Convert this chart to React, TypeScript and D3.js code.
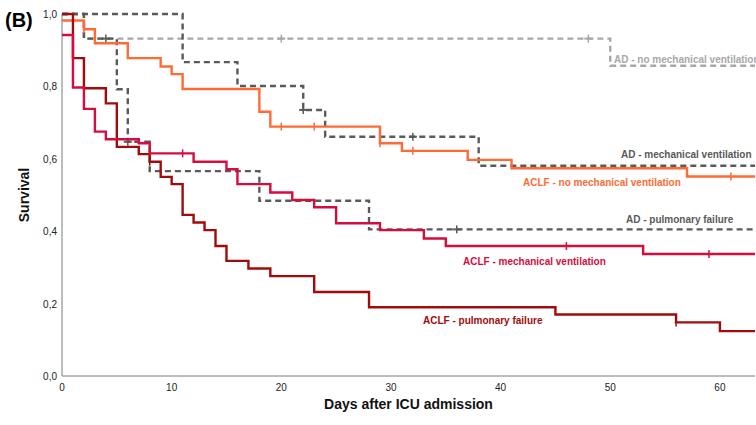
import React from "react";
import * as d3 from "d3";

const W = 756;
const H = 425;

// ---- data (days, survival) ----
const aclfPulmTimes = [0, 1, 2, 4, 5, 7, 8, 9, 10, 11, 12, 13, 14, 15, 17, 19, 23, 28, 45, 56, 60];
const aclfPulmSurv = [1.0, 0.878, 0.795, 0.753, 0.633, 0.613, 0.592, 0.55, 0.53, 0.445, 0.424, 0.403, 0.359, 0.318, 0.297, 0.276, 0.232, 0.19, 0.17, 0.148, 0.124];
const aclfPulmCensor = [8, 56];

const aclfMvTimes = [0, 1, 2, 3, 4, 7, 8, 12, 15, 16, 19, 21, 23, 25, 29, 33, 35, 53];
const aclfMvSurv = [0.942, 0.797, 0.738, 0.675, 0.654, 0.643, 0.615, 0.592, 0.571, 0.53, 0.507, 0.486, 0.466, 0.422, 0.403, 0.38, 0.359, 0.337];
const aclfMvCensor = [11, 46, 59];

const aclfNoMvTimes = [0, 2, 3, 6, 9, 10, 11, 18, 19, 29, 31, 37, 41, 57];
const aclfNoMvSurv = [0.982, 0.958, 0.919, 0.878, 0.855, 0.834, 0.793, 0.73, 0.689, 0.643, 0.622, 0.597, 0.574, 0.551];
const aclfNoMvCensor = [2, 20, 23, 29, 32, 61];

const adNoMvTimes = [0, 2, 50];
const adNoMvSurv = [1.0, 0.932, 0.857];
const adNoMvCensor = [20, 48];

const adMvTimes = [0, 11, 16, 22, 24, 38];
const adMvSurv = [1.0, 0.867, 0.801, 0.735, 0.661, 0.581];
const adMvCensor = [22, 32];

const adPulmTimes = [0, 2, 5, 6, 8, 18, 28];
const adPulmSurv = [1.0, 0.932, 0.792, 0.647, 0.566, 0.484, 0.405];
const adPulmCensor = [4, 6, 36];

const xTicks = [0, 10, 20, 30, 40, 50, 60];
const yTicks = [0, 0.2, 0.4, 0.6, 0.8, 1.0];

const X_MAX = 63.2;

const x = d3.scaleLinear().domain([0, X_MAX]).range([62, 755]);
const y = d3.scaleLinear().domain([0, 1]).range([376, 14]);

type Series = {
  name: string;
  times: number[];
  surv: number[];
  censor: number[];
  color: string;
  dashed: boolean;
  labelX: number;
  labelY: number;
};

const series: Series[] = [
  { name: "AD - no mechanical ventilation", times: adNoMvTimes, surv: adNoMvSurv, censor: adNoMvCensor, color: "#a8a8a8", dashed: true, labelX: 614, labelY: 63 },
  { name: "AD - mechanical ventilation", times: adMvTimes, surv: adMvSurv, censor: adMvCensor, color: "#5a5a5a", dashed: true, labelX: 621, labelY: 158 },
  { name: "AD - pulmonary failure", times: adPulmTimes, surv: adPulmSurv, censor: adPulmCensor, color: "#5a5a5a", dashed: true, labelX: 626, labelY: 223 },
  { name: "ACLF - no mechanical ventilation", times: aclfNoMvTimes, surv: aclfNoMvSurv, censor: aclfNoMvCensor, color: "#ff6b35", dashed: false, labelX: 523, labelY: 186 },
  { name: "ACLF - pulmonary failure", times: aclfPulmTimes, surv: aclfPulmSurv, censor: aclfPulmCensor, color: "#a00c0c", dashed: false, labelX: 423, labelY: 324 },
  { name: "ACLF - mechanical ventilation", times: aclfMvTimes, surv: aclfMvSurv, censor: aclfMvCensor, color: "#d70c3e", dashed: false, labelX: 463, labelY: 265 },
];

function survAt(s: Series, t: number): number {
  let v = s.surv[0];
  for (let i = 0; i < s.times.length; i++) {
    if (s.times[i] <= t) v = s.surv[i];
  }
  return v;
}

const line = d3
  .line<[number, number]>()
  .x((d) => x(d[0]))
  .y((d) => y(d[1]))
  .curve(d3.curveStepAfter);

export default function App() {
  const font = "'Liberation Sans', Arial, Helvetica, sans-serif";
  return (
    <svg width={W} height={H} style={{ position: "absolute", left: 0, top: 0, display: "block", background: "#fff" }} fontFamily={font}>
      <text x={5} y={27} fontSize={20} fontWeight="bold" fill="#000">(B)</text>

      {/* axes */}
      <line x1={x(0)} x2={x(0)} y1={y(1)} y2={y(0)} stroke="#7a7a7a" strokeWidth={1} />
      <line x1={x(0)} x2={x(X_MAX)} y1={y(0)} y2={y(0)} stroke="#7a7a7a" strokeWidth={1} />
      {yTicks.map((t) => (
        <text key={"y" + t} x={57} y={y(t) + 4} fontSize={10} textAnchor="end" fill="#222">
          {t.toFixed(1).replace(".", ",")}
        </text>
      ))}
      {xTicks.map((t) => (
        <text key={"x" + t} x={x(t)} y={391} fontSize={10} textAnchor="middle" fill="#222">
          {t}
        </text>
      ))}
      <text x={(x(0) + x(X_MAX)) / 2} y={409} fontSize={14} fontWeight="bold" textAnchor="middle" fill="#111">
        Days after ICU admission
      </text>
      <text transform={`translate(29,${(y(0) + y(1)) / 2}) rotate(-90)`} fontSize={14} fontWeight="bold" textAnchor="middle" fill="#111">
        Survival
      </text>

      {series.map((s) => {
        const pts: [number, number][] = s.times.map((t, i) => [t, s.surv[i]] as [number, number]);
        pts.push([X_MAX, s.surv[s.surv.length - 1]]);
        return (
          <g key={s.name}>
            <path
              d={line(pts) || ""}
              fill="none"
              stroke={s.color}
              strokeWidth={2.4}
              strokeDasharray={s.dashed ? "6,4" : undefined}
            />
            {s.censor.map((c) => (
              <g key={c}>
                <line x1={x(c)} x2={x(c)} y1={y(survAt(s, c)) - 4} y2={y(survAt(s, c)) + 4} stroke={s.color} strokeWidth={1.5} />
                {s.dashed && (
                  <line x1={x(c) - 4} x2={x(c) + 4} y1={y(survAt(s, c))} y2={y(survAt(s, c))} stroke={s.color} strokeWidth={2} />
                )}
              </g>
            ))}
          </g>
        );
      })}

      {series.map((s) => (
        <text key={"l" + s.name} x={s.labelX} y={s.labelY} fontSize={10} fontWeight="bold" fill={s.color}>
          {s.name}
        </text>
      ))}
    </svg>
  );
}
